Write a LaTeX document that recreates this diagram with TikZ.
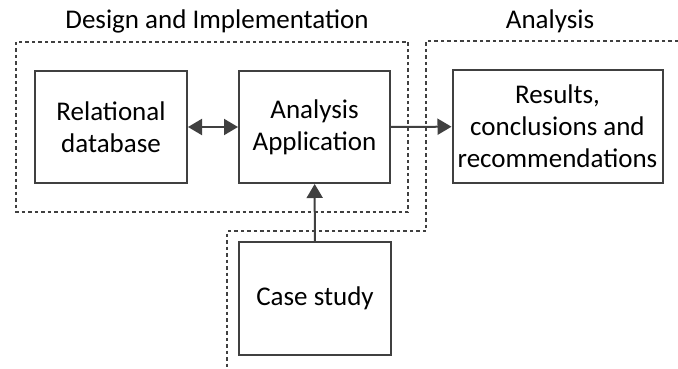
\documentclass[tikz,border=0pt]{standalone}
\usepackage{fontspec}
\setmainfont{Carlito}
\usetikzlibrary{arrows.meta}
\definecolor{ink}{HTML}{404040}
\tikzset{
  tip/.tip={Triangle[length=14pt,width=16pt]},
  block/.style={draw=ink, line width=2pt, align=center, inner sep=0pt,
    font=\fontsize{27}{32}\selectfont, text=black},
  region/.style={draw=ink, line width=1.8pt, dash pattern=on 3.5pt off 3pt},
  link/.style={draw=ink, line width=2pt, -tip},
  title/.style={font=\fontsize{27}{30}\selectfont, text=black, inner sep=0pt}
}
\begin{document}
\begin{tikzpicture}[x=1pt,y=-1pt]
\useasboundingbox (0,0) rectangle (678,369);

% dashed regions
\draw[region] (16,42) rectangle (408,212);
\coordinate (r1) at (678,41);
\coordinate (r2) at (426,41);
\coordinate (r3) at (426,231);
\coordinate (r4) at (227,231);
\coordinate (r5) at (227,369);
\draw[region] (r1) -- (r2) -- (r3) -- (r4) -- (r5);

% region titles
\node[title] (tdesign) at (217,21) {Design and Implementation};
\node[title] (tanalysis) at (550,21) {Analysis};

% blocks
\node[block, minimum width=152pt, minimum height=112pt] (db) at (111,127) {Relational\\database};
\node[block, minimum width=151pt, minimum height=112pt] (app) at (314.5,127) {Analysis\\Application};
\node[block, minimum width=210pt, minimum height=113pt] (res) at (557.5,126.5) {Results,\\conclusions and\\recommendations};
\node[block, minimum width=152pt, minimum height=113pt] (case) at (315,298.5) {Case study};

% connectors
\draw[link, tip-tip] (db) -- (app);
\draw[link] (app) -- (res);
\draw[link] (case) -- (app);
\end{tikzpicture}
\end{document}
